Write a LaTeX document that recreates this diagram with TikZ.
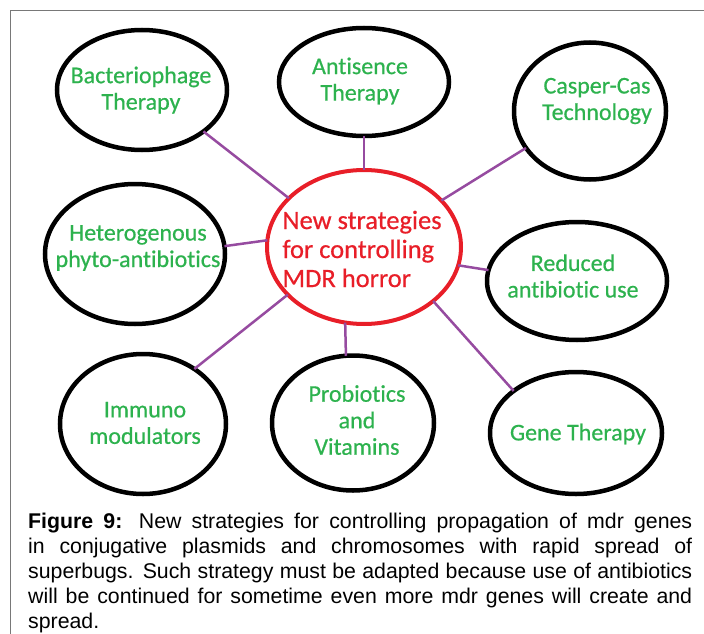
\documentclass[tikz,border=0pt]{standalone}
\usepackage{fontspec}
\setmainfont{Liberation Sans}
\newfontfamily\bubfont[FakeBold=0.6,RawFeature=-liga]{Carlito}
\usetikzlibrary{shapes.geometric}
\definecolor{txtgreen}{RGB}{45,178,78}
\definecolor{mred}{RGB}{232,30,40}
\definecolor{mpurple}{RGB}{150,75,160}
\definecolor{framegray}{RGB}{120,120,120}
\begin{document}
\begin{tikzpicture}[x=1pt,y=-1pt,
  bub/.style={ellipse,draw=black,line width=4.5pt,inner sep=0pt,outer sep=0pt},
  hub/.style={ellipse,draw=mred,line width=4pt,inner sep=0pt,outer sep=0pt},
  gtxt/.style={text=txtgreen,font=\bubfont\fontsize{24}{26.5}\selectfont,align=center,inner sep=0pt},
  rtxt/.style={text=mred,font=\bubfont\fontsize{26.5}{29}\selectfont,align=left,inner sep=0pt},
  link/.style={draw=mpurple,line width=2.5pt},
  captxt/.style={anchor=base west,inner sep=0pt,font=\fontsize{21.3}{25}\selectfont}]
\useasboundingbox (0,0) rectangle (704,634);
\draw[framegray,line width=1pt] (10,634) -- (10,11) -- (704,11);

% bubbles
\node[hub,minimum width=194pt,minimum height=154pt] (hub) at (364,247) {};
\node[bub,minimum width=170pt,minimum height=120pt] (bact) at (142,90) {};
\node[bub,minimum width=170pt,minimum height=108pt] (anti) at (364,82) {};
\node[bub,minimum width=152pt,minimum height=137pt] (casp) at (590,111) {};
\node[bub,minimum width=180pt,minimum height=140pt] (hete) at (135,254) {};
\node[bub,minimum width=180pt,minimum height=118pt] (redu) at (577,281) {};
\node[bub,minimum width=166pt,minimum height=140pt] (immu) at (143,424) {};
\node[bub,minimum width=162pt,minimum height=135pt] (prob) at (353,423) {};
\node[bub,minimum width=172pt,minimum height=122pt] (gene) at (576,433) {};

% texts
\node[rtxt] (hubt) at (362,249) {New strategies\\for controlling\\MDR horror};
\node[gtxt] (bactt) at (141,90) {Bacteriophage\\Therapy};
\node[gtxt] (antit) at (360,81) {Antisence\\Therapy};
\node[gtxt] (caspt) at (597,101) {Casper-Cas\\Technology};
\node[gtxt] (hetet) at (138,248) {Heterogenous\\phyto-antibiotics};
\node[gtxt] (redut) at (573,276) {Reduced\\antibiotic use};
\node[gtxt] (immut) at (145,423) {Immuno\\modulators};
\node[gtxt] (probt) at (357,420) {Probiotics\\and\\Vitamins};
\node[gtxt] (genet) at (578,434) {Gene Therapy};

% connectors
\draw[link] (bact.-34) -- (hub.147);
\draw[link] (anti.-90) -- (hub.90);
\draw[link] (casp.210) -- (hub.31);
\draw[link] (hete.5) -- (hub.176);
\draw[link] (redu.173) -- (hub.-11);
\draw[link] (immu.47) -- (hub.212);
\draw[link] (prob.96) -- (hub.256);
\draw[link] (gene.146) -- (hub.-38);

% caption
\node[captxt] (cap1) at (28,528) {\makebox[664pt][s]{\textbf{Figure 9:} New strategies for controlling propagation of mdr genes}};
\node[captxt] (cap2) at (28,553) {\makebox[664pt][s]{in conjugative plasmids and chromosomes with rapid spread of}};
\node[captxt] (cap3) at (28,578) {\makebox[664pt][s]{superbugs. Such strategy must be adapted because use of antibiotics}};
\node[captxt] (cap4) at (28,603) {\makebox[664pt][s]{will be continued for sometime even more mdr genes will create and}};
\node[captxt] (cap5) at (28,628) {spread.};
\end{tikzpicture}
\end{document}
